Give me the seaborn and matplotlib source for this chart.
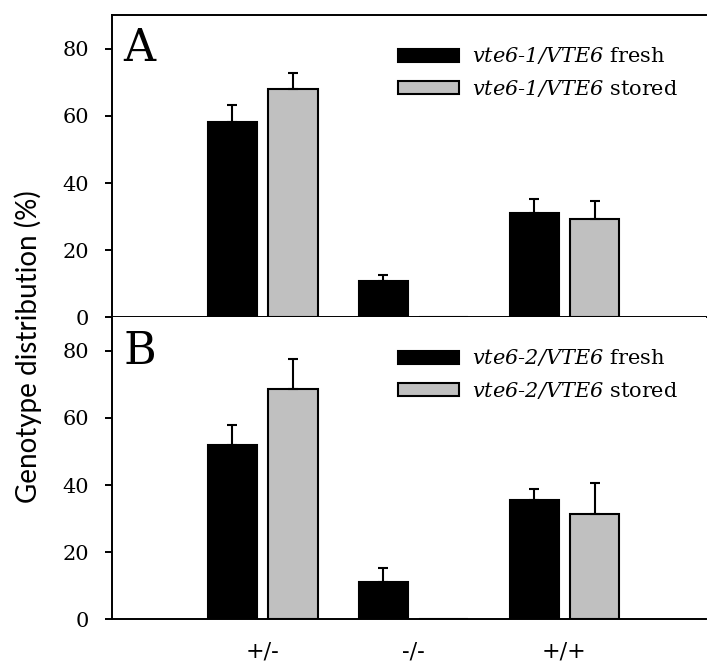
import numpy as np
import pandas as pd
import matplotlib
matplotlib.use("Agg")
import matplotlib.pyplot as plt
import seaborn as sns

# Data
genotypes = ["+/-", "-/-", "+/+"]
conditions = ["fresh", "stored"]

a_fresh = [58.2, 10.8, 31.0]
a_fresh_err = [5.1, 1.9, 4.1]
a_stored = [68.0, 0.0, 29.3]
a_stored_err = [4.9, 0.0, 5.2]

b_fresh = [52.0, 11.2, 35.5]
b_fresh_err = [5.8, 4.2, 3.2]
b_stored = [68.6, 0.0, 31.4]
b_stored_err = [9.0, 0.0, 9.1]

sns.set_style("ticks")
plt.rcParams["font.family"] = ["DejaVu Serif"]
plt.rcParams["mathtext.fontset"] = "custom"
plt.rcParams["mathtext.it"] = "DejaVu Serif:italic"
plt.rcParams["mathtext.rm"] = "DejaVu Serif:italic"
plt.rcParams["text.color"] = "black"
plt.rcParams["axes.labelcolor"] = "black"
plt.rcParams["xtick.color"] = "black"
plt.rcParams["ytick.color"] = "black"

palette = {"fresh": "#000000", "stored": "#c0c0c0"}


def make_df(fresh, stored):
    return pd.DataFrame({
        "genotype": genotypes * 2,
        "condition": ["fresh"] * 3 + ["stored"] * 3,
        "value": list(fresh) + list(stored),
    })


fig, axes = plt.subplots(2, 1, figsize=(7.07, 6.61), dpi=100, sharex=True)
fig.subplots_adjust(left=0.158, right=0.999, bottom=0.063, top=0.977, hspace=0)

panels = [
    (axes[0], a_fresh, a_stored, [a_fresh_err, a_stored_err], "A", "vte6\u20101/VTE6"),
    (axes[1], b_fresh, b_stored, [b_fresh_err, b_stored_err], "B", "vte6\u20102/VTE6"),
]

for ax, fresh, stored, errs, letter, line in panels:
    df = make_df(fresh, stored)
    sns.barplot(data=df, x="genotype", y="value", hue="condition", order=genotypes,
                hue_order=conditions, palette=palette, edgecolor="black", linewidth=1.5,
                width=0.8, gap=0.18, errorbar=None, legend=False, ax=ax)
    bars = list(ax.containers)

    # upward-only error bars
    for cont, err in zip(bars, errs):
        xs = [p.get_x() + p.get_width() / 2 for p in cont.patches]
        hs = [p.get_height() for p in cont.patches]
        keep = [i for i, e in enumerate(err) if e > 0]
        ax.errorbar([xs[i] for i in keep], [hs[i] for i in keep],
                    yerr=[[0] * len(keep), [err[i] for i in keep]],
                    fmt="none", ecolor="black", elinewidth=1.5, capsize=3.6, capthick=1.5)

    labels = [rf"$\mathit{{{line}}}$ fresh", rf"$\mathit{{{line}}}$ stored"]
    ax.legend([c.patches[0] for c in bars], labels, loc="upper left",
              bbox_to_anchor=(0.481, 0.9), frameon=False, fontsize=15,
              handlelength=2.93, handleheight=0.58, handletextpad=0.63,
              labelspacing=0.55, borderpad=0, borderaxespad=0)

    ax.text(0.02, 0.96, letter, transform=ax.transAxes, fontsize=32,
            va="top", ha="left")

    ax.set_ylim(0, 90)
    ax.set_xlim(-1.0, 2.94)
    ax.set_yticks([0, 20, 40, 60, 80])
    ax.tick_params(axis="y", labelsize=15, direction="out", length=5, width=1.4, pad=11)
    ax.tick_params(axis="x", length=0, labelsize=16, pad=15)
    ax.set_ylabel("")
    ax.set_xlabel("")
    for s in ax.spines.values():
        s.set_linewidth(1.4)
        s.set_color("black")

axes[0].spines["right"].set_visible(False)
axes[1].spines["right"].set_visible(False)
axes[1].spines["top"].set_visible(False)

fig.text(0.04, 0.475, "Genotype distribution (%)", rotation=90, va="center", ha="center",
         fontsize=20, family=["Lato", "DejaVu Sans"])

fig.savefig("out.png", dpi=100)
